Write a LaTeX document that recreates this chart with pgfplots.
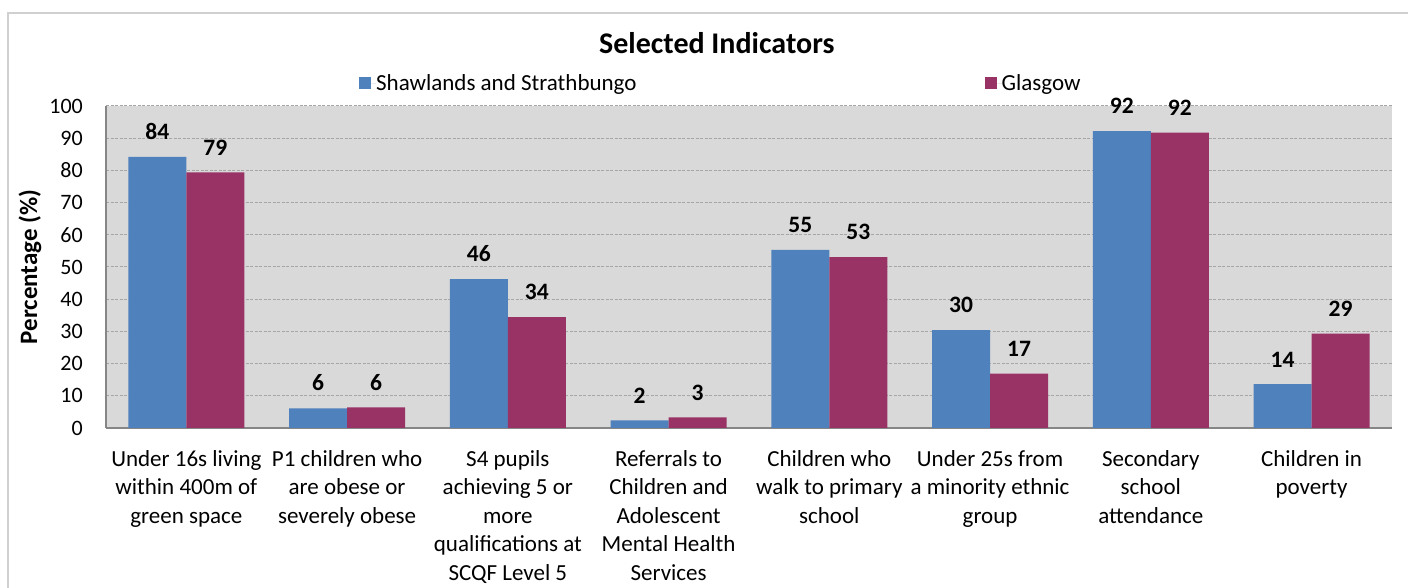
\documentclass[border=0pt]{standalone}
\usepackage{fontspec}
\setmainfont{Carlito}
\usepackage{pgfplots}
\pgfplotsset{compat=1.18}
\definecolor{cblue}{HTML}{4F81BD}
\definecolor{cplum}{HTML}{993366}
\definecolor{bgray}{HTML}{D9D9D9}
\definecolor{ggray}{HTML}{A6A6A6}
\definecolor{agray}{HTML}{868686}
\definecolor{fgray}{HTML}{D0D0D0}
\begin{document}
\begin{tikzpicture}
\useasboundingbox (0pt,0pt) rectangle (1408pt,588pt);
\draw[fgray, line width=1.5pt] (8pt,0pt) -- (8pt,575pt) -- (1408pt,575pt);
\begin{axis}[
  at={(106pt,160pt)}, anchor=south west,
  scale only axis, width=1286pt, height=322pt,
  ybar=0pt, bar width=58pt,
  xmin=-0.5, xmax=7.5, ymin=0, ymax=100,
  xtick={0,...,7},
  xticklabels={{Under 16s living\\within 400m of\\green space},
    {P1 children who\\are obese or\\severely obese},
    {S4 pupils\\achieving 5 or\\more\\qualifications at\\SCQF Level 5},
    {Referrals to\\Children and\\Adolescent\\Mental Health\\Services},
    {Children who\\walk to primary\\school},
    {Under 25s from\\a minority ethnic\\group},
    {Secondary\\school\\attendance},
    {Children in\\poverty}},
  ytick={0,10,...,100},
  major tick length=0pt,
  axis background/.style={fill=bgray},
  ymajorgrids,
  grid style={ggray, dash pattern=on 3pt off 1.5pt, line width=1pt},
  axis x line*=bottom, axis y line*=left,
  axis line style={agray, line width=1.5pt, -},
  /pgf/number format/assume math mode=true,
  yticklabel style={font=\fontsize{22}{26}\selectfont, text=black, inner sep=0pt, xshift=-23pt},
  xticklabel style={font=\fontsize{23}{28.5}\selectfont, text=black, align=center, anchor=north, inner sep=0pt, yshift=-22pt},
  title={Selected Indicators},
  title style={at={(axis description cs:0.475,1.1925)}, anchor=center, yshift=-5pt, font=\bfseries\fontsize{30}{34}\selectfont},
  ylabel={Percentage (\%)},
  ylabel style={at={([xshift=-76pt]axis description cs:0,0.5)}, anchor=center, font=\bfseries\fontsize{25}{28}\selectfont},
  legend columns=2,
  legend style={at={(axis description cs:0.1944,1.0714)}, anchor=west, draw=none, fill=none,
    nodes={inner sep=0pt},
    font=\fontsize{23}{26}\selectfont,
    /tikz/every even column/.append style={column sep=348pt}},
  nodes near coords={\pgfmathprintnumber[fixed,precision=0]{\pgfplotspointmeta}},
  nodes near coords style={font=\bfseries\fontsize{23.5}{26}\selectfont, text=black, anchor=south, inner sep=0pt, yshift=17pt},
]
\addplot[fill=cblue, draw=none, legend image code/.code={\fill[cblue] (0pt,-6pt) rectangle (12pt,6pt); \path (0pt,0pt) -- (17pt,0pt);}]
  coordinates {(0,84.2) (1,6.1) (2,46.2) (3,2.4) (4,55.3) (5,30.4) (6,92.2) (7,13.6)};
\addplot[fill=cplum, draw=none, legend image code/.code={\fill[cplum] (0pt,-6pt) rectangle (12pt,6pt); \path (0pt,0pt) -- (17pt,0pt);}]
  coordinates {(0,79.4) (1,6.4) (2,34.4) (3,3.3) (4,53.1) (5,16.9) (6,91.7) (7,29.3)};
\legend{Shawlands and Strathbungo, Glasgow}
\end{axis}
\end{tikzpicture}
\end{document}
